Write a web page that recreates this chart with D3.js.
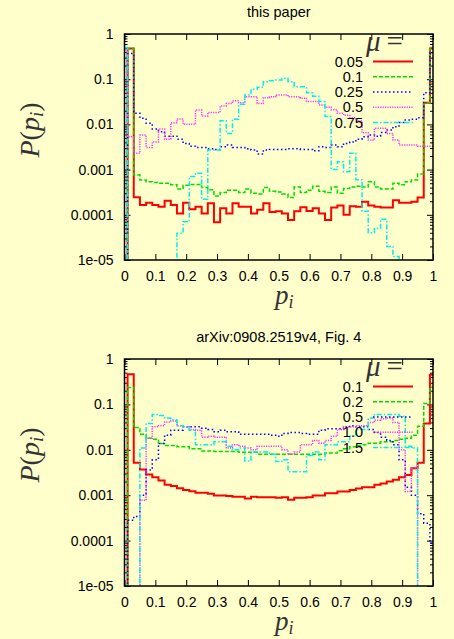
<!DOCTYPE html>
<html><head><meta charset="utf-8">
<script src="https://cdn.jsdelivr.net/npm/d3@7"></script>
<style>html,body{margin:0;padding:0;background:#ffffcc;}svg{display:block}</style>
</head><body><svg id="c" width="454" height="639"></svg>
<script>
// ---------- data ----------
const binCenters = d3.range(51).map(k => +(k * 0.02).toFixed(2));
const yTickValues = [1, 0.1, 0.01, 0.001, 0.0001, 0.00001];
const yTickLabels = ["1", "0.1", "0.01", "0.001", "0.0001", "1e-05"];
const xTickValues = [0, 0.1, 0.2, 0.3, 0.4, 0.5, 0.6, 0.7, 0.8, 0.9, 1];
const xTickLabels = ["0", "0.1", "0.2", "0.3", "0.4", "0.5", "0.6", "0.7", "0.8", "0.9", "1"];

const topTitle = "this paper";
const topMu = ["0.05", "0.1", "0.25", "0.5", "0.75"];
const top_005 = [0, 0.48, 2.44e-4, 1.65e-4, 1.85e-4, 1.65e-4, 1.5e-4, 2.05e-4, 1.65e-4, 1.07e-4,
  1.85e-4, 1.32e-4, 1.5e-4, 1.07e-4, 1.8e-4, 6.8e-5, 1.4e-4, 1.07e-4, 1.8e-4, 1.5e-4,
  1.5e-4, 1.07e-4, 1.3e-4, 1.8e-4, 1.15e-4, 1.2e-4, 1.07e-4, 7.7e-5, 1.2e-4, 1.47e-4,
  1.21e-4, 1.4e-4, 1.07e-4, 7.7e-5, 1.45e-4, 1.6e-4, 1e-4, 1.55e-4, 1.5e-4, 1.95e-4,
  1.6e-4, 1.5e-4, 1.45e-4, 1.45e-4, 2.1e-4, 1.85e-4, 1.85e-4, 1.95e-4, 2.4e-4, 0.03, 0.48];
const top_01 = [0, 0.48, 7.6e-4, 5.9e-4, 5.4e-4, 5.2e-4, 5e-4, 5e-4, 4.6e-4, 3.7e-4,
  4.5e-4, 4.7e-4, 4.7e-4, 4e-4, 3.6e-4, 2.6e-4, 3.1e-4, 3.5e-4, 3.5e-4, 3.1e-4,
  3.7e-4, 3e-4, 2.9e-4, 4e-4, 3.3e-4, 3.2e-4, 2.9e-4, 2.4e-4, 4.1e-4, 3.1e-4,
  3.5e-4, 4.3e-4, 3.3e-4, 3.1e-4, 4.1e-4, 3e-4, 3.8e-4, 4.1e-4, 4.3e-4, 4.1e-4,
  5.4e-4, 4.1e-4, 3.7e-4, 3.7e-4, 5e-4, 4.6e-4, 5.4e-4, 5.9e-4, 8e-4, 0.03, 0.48];
const top_025 = [0, 0.37, 0.0176, 0.0136, 0.0106, 0.0079, 0.0069, 0.0055, 0.0055, 0.0047,
  0.0038, 0.0033, 0.0031, 0.0031, 0.0029, 0.0028, 0.0032, 0.0035, 0.0031, 0.0031,
  0.0029, 0.0027, 0.0022, 0.0027, 0.0028, 0.0028, 0.0028, 0.0029, 0.0029, 0.0028,
  0.0028, 0.0026, 0.0032, 0.0031, 0.0035, 0.0032, 0.0038, 0.0041, 0.0047, 0.0053,
  0.0058, 0.0055, 0.0066, 0.0075, 0.0089, 0.011, 0.0125, 0.013, 0.014, 0.05, 0.37];
const top_05 = [0.45, 0.0053, 0.0023, 0.0058, 0.0031, 0.0041, 0.0079, 0.0047, 0.0109, 0.0131,
  0.0101, 0.0101, 0.0208, 0.0154, 0.0184, 0.0184, 0.0256, 0.029, 0.0334, 0.030,
  0.041, 0.041, 0.029, 0.039, 0.041, 0.045, 0.045, 0.041, 0.041, 0.038,
  0.032, 0.032, 0.027, 0.024, 0.021, 0.0176, 0.016, 0.014, 0.012, 0.0065,
  0.0045, 0.0082, 0.0082, 0.0063, 0.0045, 0.0035, 0.0035, 0.0035, 0.0033, 0.0033, 0.0033];
const top_075 = [0.5, 0, 0, 0, 0, 0, 0, 0, 0, 3.9e-5,
  7e-5, 7e-4, 8.3e-4, 2.2e-4, 0.0027, 0.0027, 0.012, 0.0063, 0.013, 0.028,
  0.045, 0.06, 0.066, 0.088, 0.093, 0.096, 0.105, 0.088, 0.068, 0.068,
  0.05, 0.042, 0.032, 0.015, 0.001, 0.0015, 9e-4, 0.0023, 6e-4, 1.2e-4,
  4e-5, 5e-5, 8e-5, 2e-5, 1.2e-5, 0, 0, 0, 0, 0, 0];

const botTitle = "arXiv:0908.2519v4, Fig. 4";
const botMu = ["0.1", "0.2", "0.5", "1.0", "1.5"];
const bot_01 = [0, 0.46, 0.0052, 0.0037, 0.00285, 0.0025, 0.0021, 0.0017, 0.0016, 0.00142,
  0.0013, 0.00122, 0.00113, 0.00113, 0.00108, 0.00099, 0.00099, 0.00096, 0.00093, 0.00093,
  0.00085, 0.00093, 0.0009, 0.0009, 0.0009, 0.00088, 0.0009, 0.00079, 0.00088, 0.00088,
  0.0009, 0.00099, 0.00099, 0.0011, 0.0011, 0.0012, 0.0012, 0.0013, 0.0014, 0.0015,
  0.0015, 0.0017, 0.0018, 0.002, 0.0022, 0.0025, 0.0028, 0.0039, 0.0052, 0.038, 0.45];
const bot_02 = [0, 0.237, 0.031, 0.022, 0.018, 0.017, 0.0137, 0.0125, 0.0125, 0.0116,
  0.0116, 0.0105, 0.0105, 0.0094, 0.0094, 0.0092, 0.0092, 0.0092, 0.0092, 0.0088,
  0.0088, 0.0088, 0.008, 0.008, 0.008, 0.008, 0.008, 0.008, 0.008, 0.008,
  0.008, 0.008, 0.008, 0.0085, 0.0085, 0.0095, 0.0105, 0.0116, 0.0125, 0.013,
  0.014, 0.014, 0.015, 0.015, 0.016, 0.017, 0.018, 0.021, 0.033, 0.105, 0.24];
const bot_05 = [0, 2.8e-4, 3.4e-4, 0.001, 0.0036, 0.006, 0.0137, 0.021, 0.027, 0.027,
  0.032, 0.032, 0.032, 0.03, 0.028, 0.025, 0.027, 0.025, 0.025, 0.022,
  0.022, 0.022, 0.022, 0.022, 0.021, 0.02, 0.023, 0.024, 0.024, 0.023,
  0.022, 0.022, 0.027, 0.029, 0.029, 0.029, 0.032, 0.034, 0.032, 0.032,
  0.028, 0.024, 0.019, 0.016, 0.013, 0.006, 0.0015, 0.001, 3.9e-4, 2.4e-4, 8.7e-5];
const bot_10 = [0, 0, 0, 7.7e-4, 0.018, 0.032, 0.034, 0.041, 0.043, 0.034,
  0.032, 0.028, 0.027, 0.019, 0.02, 0.019, 0.019, 0.011, 0.013, 0.012,
  0.011, 0.01, 0.012, 0.012, 0.012, 0.012, 0.01, 0.008, 0.009, 0.013,
  0.013, 0.016, 0.014, 0.016, 0.02, 0.028, 0.032, 0.032, 0.034, 0.034,
  0.04, 0.045, 0.048, 0.05, 0.04, 0.01, 0.0012, 0.004, 0, 0, 0];
const bot_15 = [0, 0, 0, 0.011, 0.038, 0.06, 0.057, 0.05, 0.046, 0.034,
  0.032, 0.027, 0.013, 0.013, 0.013, 0.015, 0.015, 0.012, 0.01, 0.011,
  0.0057, 0.009, 0.009, 0.009, 0.008, 0.0055, 0.006, 0.0033, 0.0033, 0.0033,
  0.0075, 0.009, 0.006, 0.013, 0.013, 0.015, 0.015, 0.02, 0.028, 0.028,
  0.05, 0.06, 0.06, 0.06, 0.06, 0.055, 0.012, 0.011, 0, 0, 0];

// ---------- styles ----------
const seriesStyle = [
  {color: "#ff0000", width: 2, dash: null},
  {color: "#00dd00", width: 1.5, dash: "4,2"},
  {color: "#0000ff", width: 1.5, dash: "1.5,2.5"},
  {color: "#ff33ff", width: 1.5, dash: "1.2,1.2"},
  {color: "#00eeee", width: 1.5, dash: "5,2,1.5,2"}
];

const panels = [
  {title: topTitle, mu: topMu, series: [top_005, top_01, top_025, top_05, top_075], top: 34, bottom: 260, key: "t"},
  {title: botTitle, mu: botMu, series: [bot_01, bot_02, bot_05, bot_10, bot_15], top: 359, bottom: 586, key: "b"}
];

const L = 124.5, R = 433;
const svg = d3.select("#c");
svg.append("rect").attr("width", 454).attr("height", 639).attr("fill", "#ffffcc");

const sans = "'Liberation Sans', Arial, sans-serif";
const serif = "'Liberation Serif', 'Times New Roman', serif";

const minorTicks = [];
for (let e = -5; e < 0; e++) for (let m = 2; m <= 9; m++) minorTicks.push(m * Math.pow(10, e));

panels.forEach(p => {
  const x = d3.scaleLinear().domain([0, 1]).range([L, R]);
  const y = d3.scaleLog().domain([1e-5, 1]).range([p.bottom, p.top]);
  const g = svg.append("g");

  // title
  g.append("text").attr("x", (L + R) / 2).attr("y", p.top - 17)
    .attr("text-anchor", "middle").attr("font-family", sans).attr("font-size", 14.5)
    .attr("fill", "#000").text(p.title);

  // clip
  const cid = "clip" + p.key;
  svg.append("clipPath").attr("id", cid).append("rect")
    .attr("x", L).attr("y", p.top).attr("width", R - L).attr("height", p.bottom - p.top);

  // axes
  const fmtY = v => yTickLabels[yTickValues.indexOf(v)];
  const fmtX = v => xTickLabels[xTickValues.indexOf(v)];
  const axL = d3.axisLeft(y).tickValues(yTickValues).tickFormat(fmtY).tickSizeInner(-6).tickSizeOuter(0).tickPadding(11);
  const axR = d3.axisRight(y).tickValues(yTickValues).tickFormat("").tickSizeInner(-6).tickSizeOuter(0);
  const axLm = d3.axisLeft(y).tickValues(minorTicks).tickFormat("").tickSizeInner(-3).tickSizeOuter(0);
  const axRm = d3.axisRight(y).tickValues(minorTicks).tickFormat("").tickSizeInner(-3).tickSizeOuter(0);
  const axB = d3.axisBottom(x).tickValues(xTickValues).tickFormat(fmtX).tickSizeInner(-6).tickSizeOuter(0).tickPadding(11);
  const axT = d3.axisTop(x).tickValues(xTickValues).tickFormat("").tickSizeInner(-6).tickSizeOuter(0);

  const addAxis = (ax, tx, ty) => {
    const a = g.append("g").attr("transform", `translate(${tx},${ty})`).call(ax);
    a.select(".domain").remove();
    a.selectAll("line").attr("stroke", "#000").attr("stroke-width", 1);
    a.selectAll("text").attr("font-family", sans).attr("font-size", 14).attr("fill", "#000");
    return a;
  };
  addAxis(axL, L, 0);
  addAxis(axLm, L, 0);
  addAxis(axR, R, 0);
  addAxis(axRm, R, 0);
  addAxis(axB, 0, p.bottom);
  addAxis(axT, 0, p.top);

  // data (histogram steps)
  const yv = v => v > 0 ? Math.max(Math.min(y(v), p.bottom + 3), p.top - 3) : p.bottom + 3;
  const line = d3.line().x(d => x(d[0])).y(d => yv(d[1]));
  const dg = g.append("g").attr("clip-path", `url(#${cid})`);
  p.series.forEach((s, i) => {
    const pts = [];
    s.forEach((v, k) => {
      const c = binCenters[k];
      pts.push([Math.max(0, c - 0.01), v]);
      pts.push([Math.min(1, c + 0.01), v]);
    });
    const st = seriesStyle[i];
    dg.append("path").attr("d", line(pts)).attr("fill", "none")
      .attr("stroke", st.color).attr("stroke-width", st.width)
      .attr("stroke-dasharray", st.dash).attr("stroke-linejoin", "miter");
  });

  // frame
  g.append("rect").attr("x", L).attr("y", p.top).attr("width", R - L).attr("height", p.bottom - p.top)
    .attr("fill", "none").attr("stroke", "#000").attr("stroke-width", 1.5);

  // legend
  const mu = g.append("text").attr("x", 366).attr("y", p.top + 17)
    .attr("font-family", serif).attr("font-size", 29).attr("fill", "#333");
  mu.append("tspan").attr("font-style", "italic").text("μ");
  mu.append("tspan").attr("dx", 6).text("=");
  p.mu.forEach((m, i) => {
    const ry = p.top + 27.5 + i * 15.25;
    const st = seriesStyle[i];
    g.append("text").attr("x", 363).attr("y", ry).attr("dy", "0.36em")
      .attr("text-anchor", "end").attr("font-family", sans).attr("font-size", 14.5)
      .attr("fill", "#000").text(m);
    g.append("line").attr("x1", 373).attr("x2", 413).attr("y1", ry).attr("y2", ry)
      .attr("stroke", st.color).attr("stroke-width", st.width).attr("stroke-dasharray", st.dash);
  });

  // axis labels
  const xl = g.append("text").attr("x", 275).attr("y", p.bottom + 44)
    .attr("text-anchor", "start").attr("font-family", serif).attr("font-size", 27).attr("fill", "#333");
  xl.append("tspan").attr("font-style", "italic").text("p");
  xl.append("tspan").attr("font-style", "italic").attr("font-size", 18).attr("dy", 4).text("i");

  const cy = p.top + 96;
  const yl = g.append("text").attr("transform", `translate(39,${cy}) rotate(-90)`)
    .attr("text-anchor", "middle").attr("font-family", serif).attr("font-size", 28).attr("fill", "#333");
  yl.append("tspan").attr("font-style", "italic").text("P");
  yl.append("tspan").text("(");
  yl.append("tspan").attr("font-style", "italic").text("p");
  yl.append("tspan").attr("font-style", "italic").attr("font-size", 19).attr("dy", 4).text("i");
  yl.append("tspan").attr("dy", -4).text(")");
});
</script></body></html>
